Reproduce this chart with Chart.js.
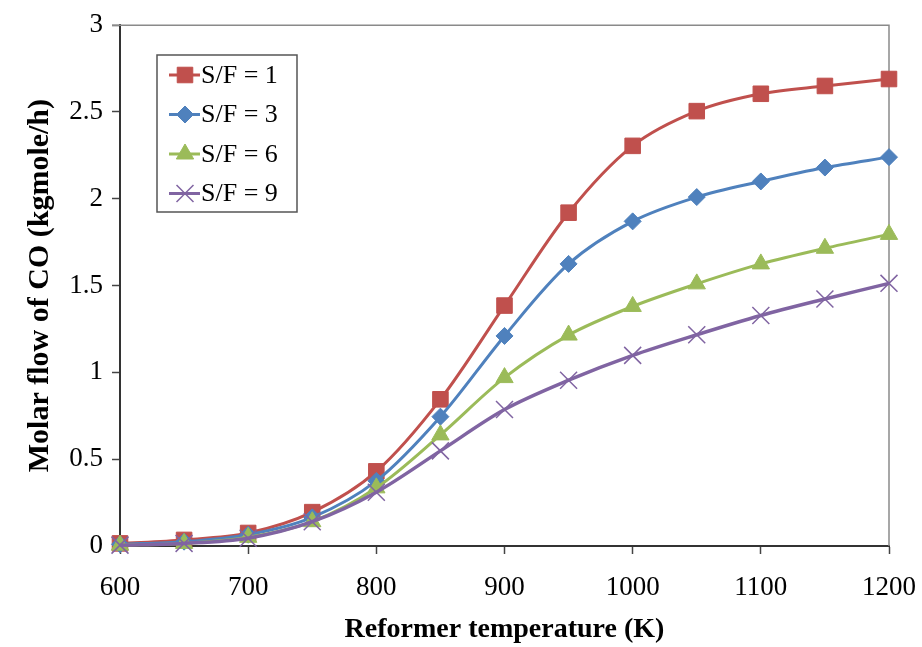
<!DOCTYPE html>
<html>
<head>
<meta charset="utf-8">
<script src="https://cdn.jsdelivr.net/npm/chart.js@4"></script>
<style>
  html, body { margin: 0; padding: 0; background: #fff; }
  #wrap { width: 922px; height: 647px; }
</style>
</head>
<body>
<div id="wrap"><canvas id="chart" width="922" height="647"></canvas></div>
<script>
// reformer temperature (K)
const temperatures = [600, 650, 700, 750, 800, 850, 900, 950, 1000, 1050, 1100, 1150, 1200];

// molar flow of CO (kgmole/h)
const sf1 = [0.015, 0.035, 0.075, 0.195, 0.43, 0.845, 1.385, 1.92, 2.305, 2.505, 2.605, 2.65, 2.69];
const sf3 = [0.01, 0.025, 0.065, 0.165, 0.375, 0.745, 1.21, 1.625, 1.87, 2.01, 2.10, 2.18, 2.24];
const sf6 = [0.005, 0.015, 0.05, 0.14, 0.335, 0.64, 0.97, 1.215, 1.38, 1.51, 1.625, 1.715, 1.795];
const sf9 = [0.005, 0.015, 0.045, 0.14, 0.31, 0.548, 0.786, 0.955, 1.098, 1.217, 1.328, 1.423, 1.513];

const seriesLabels = ["S/F = 1", "S/F = 3", "S/F = 6", "S/F = 9"];
const xTicks = [600, 700, 800, 900, 1000, 1100, 1200];
const yTicks = [0, 0.5, 1, 1.5, 2, 2.5, 3];

const serif = '"Liberation Serif", "Times New Roman", serif';

function pts(values) {
  return values.map((v, i) => ({ x: temperatures[i], y: v }));
}

function makeSet(label, values, color, style, radius, order, extra) {
  return Object.assign({
    label: label,
    data: pts(values),
    borderColor: color,
    backgroundColor: color,
    pointStyle: style,
    pointRadius: radius,
    pointHoverRadius: radius,
    pointBorderColor: color,
    pointBackgroundColor: color,
    pointBorderWidth: 1,
    borderWidth: 3,
    tension: 0.32,
    clip: false,
    order: order,
  }, extra || {});
}

// gray top / right frame, drawn under the series
const framePlugin = {
  id: "frame",
  beforeDatasetsDraw(chart) {
    const { ctx, chartArea: a } = chart;
    ctx.save();
    ctx.strokeStyle = "#8a8a8a";
    ctx.lineWidth = 1.5;
    ctx.beginPath();
    ctx.moveTo(a.left - 8, a.top);
    ctx.lineTo(a.right, a.top);
    ctx.lineTo(a.right, a.bottom);
    ctx.stroke();
    ctx.restore();
  },
};

// boxed legend inside the plot, like the Excel one
const boxLegend = {
  id: "boxLegend",
  afterDraw(chart) {
    const { ctx } = chart;
    const left = 157, top = 55, w = 140, h = 157;
    ctx.save();
    ctx.fillStyle = "#fff";
    ctx.fillRect(left, top, w, h);
    ctx.strokeStyle = "#555";
    ctx.lineWidth = 1.5;
    ctx.strokeRect(left, top, w, h);

    chart.data.datasets.forEach((ds, i) => {
      const y = 75 + i * 39.5;
      ctx.strokeStyle = ds.borderColor;
      ctx.lineWidth = 3;
      ctx.beginPath();
      ctx.moveTo(169, y);
      ctx.lineTo(200, y);
      ctx.stroke();

      ctx.fillStyle = ds.pointBackgroundColor;
      ctx.strokeStyle = ds.pointBorderColor;
      ctx.lineWidth = ds.pointBorderWidth;
      Chart.helpers.drawPoint(ctx, {
        pointStyle: ds.pointStyle,
        radius: ds.pointRadius,
        borderWidth: ds.pointBorderWidth,
        rotation: 0,
      }, 185, y);

      ctx.fillStyle = "#000";
      ctx.font = "26px " + serif;
      ctx.textAlign = "left";
      ctx.textBaseline = "middle";
      ctx.fillText(ds.label, 201, y + 1);
    });
    ctx.restore();
  },
};

const ctx = document.getElementById("chart").getContext("2d");
new Chart(ctx, {
  type: "line",
  data: {
    datasets: [
      makeSet(seriesLabels[0], sf1, "#C0504D", "rect", 11, 4),
      makeSet(seriesLabels[1], sf3, "#4F81BD", "rectRot", 8.5, 3),
      makeSet(seriesLabels[2], sf6, "#9BBB59", "triangle", 10, 2),
      makeSet(seriesLabels[3], sf9, "#8064A2", "crossRot", 12, 1, { pointBorderWidth: 1.5, borderWidth: 3.5 }),
    ],
  },
  options: {
    responsive: false,
    animation: false,
    events: [],
    layout: { padding: { top: 24, right: 33, left: 0, bottom: 0 } },
    plugins: {
      legend: { display: false },
      tooltip: { enabled: false },
    },
    scales: {
      x: {
        type: "linear",
        min: 600,
        max: 1200,
        afterFit(scale) {
          scale.height = 101;
          scale.paddingLeft = 0;
          scale.paddingRight = 0;
        },
        afterBuildTicks(scale) { scale.ticks = xTicks.map(v => ({ value: v })); },
        ticks: {
          color: "#000",
          padding: 18,
          maxRotation: 0,
          font: { family: serif, size: 27 },
          callback: v => String(v),
        },
        grid: {
          drawOnChartArea: false,
          tickLength: 8,
          tickColor: "#444",
          tickWidth: 1.5,
        },
        border: { color: "#333", width: 2 },
        title: {
          display: true,
          text: "Reformer temperature (K)",
          color: "#000",
          font: { family: serif, size: 28, weight: "bold" },
          padding: { top: 0, bottom: 0 },
        },
      },
      y: {
        min: 0,
        max: 3,
        afterFit(scale) { scale.width = 120; },
        afterBuildTicks(scale) { scale.ticks = yTicks.map(v => ({ value: v })); },
        ticks: {
          color: "#000",
          padding: 9,
          font: { family: serif, size: 27 },
          callback: v => String(v),
        },
        grid: {
          drawOnChartArea: false,
          tickLength: 8,
          tickColor: "#444",
          tickWidth: 1.5,
        },
        border: { color: "#333", width: 2 },
        title: {
          display: true,
          text: "Molar flow of CO (kgmole/h)",
          color: "#000",
          font: { family: serif, size: 30, weight: "bold" },
          padding: { top: 22, bottom: 0 },
        },
      },
    },
  },
  plugins: [framePlugin, boxLegend],
});
</script>
</body>
</html>
